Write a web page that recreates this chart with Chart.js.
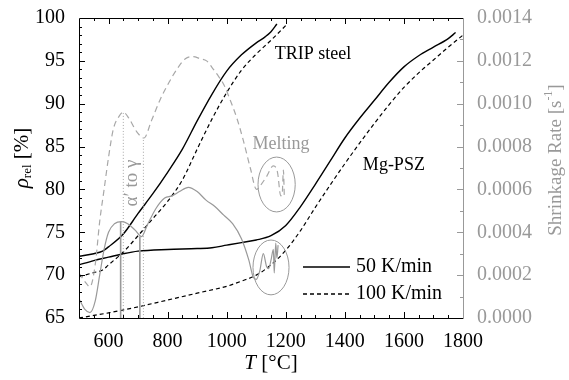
<!DOCTYPE html>
<html>
<head>
<meta charset="utf-8">
<script src="https://cdn.jsdelivr.net/npm/chart.js@4.4.1/dist/chart.umd.min.js"></script>
<style>
  html, body { margin: 0; padding: 0; background: #fff; }
</style>
</head>
<body>
<canvas id="sinterChart" width="569" height="380"></canvas>
<script>
// Datos: densidad relativa (eje izq.) y velocidad de contracción (eje der.)
const tTrip50 = [500, 550, 580, 600, 650, 700, 750, 800, 850, 900, 950, 1000, 1050, 1100, 1130, 1150, 1170];
const rhoTrip50 = [72.2, 72.5, 72.8, 73.3, 74.8, 77.2, 79.5, 82.0, 84.7, 88.0, 91.1, 93.8, 95.7, 97.1, 97.8, 98.4, 99.3];

const tTrip100 = [500, 550, 580, 600, 650, 700, 750, 800, 850, 900, 950, 1000, 1050, 1100, 1150, 1205];
const rhoTrip100 = [69.8, 70.3, 70.6, 71.2, 72.7, 74.6, 76.6, 78.6, 81.1, 84.7, 88.2, 91.3, 93.9, 95.8, 97.4, 99.3];

const tPsz50 = [500, 550, 600, 650, 700, 800, 900, 950, 1000, 1050, 1100, 1150, 1200, 1250, 1300, 1350, 1400, 1450, 1500, 1550, 1600, 1650, 1700, 1750, 1775];
const rhoPsz50 = [71.2, 71.7, 72.1, 72.5, 72.8, 73.0, 73.1, 73.2, 73.5, 73.8, 74.1, 74.6, 75.8, 78.0, 80.6, 83.3, 86.0, 88.3, 90.4, 92.5, 94.3, 95.6, 96.6, 97.6, 98.3];

const tPsz100 = [500, 550, 600, 700, 800, 900, 1000, 1050, 1100, 1150, 1200, 1250, 1300, 1350, 1400, 1450, 1500, 1550, 1600, 1650, 1700, 1750, 1800];
const rhoPsz100 = [65.0, 65.3, 65.6, 66.3, 67.1, 67.9, 68.7, 69.3, 70.0, 71.2, 72.9, 75.2, 77.9, 80.5, 83.0, 85.4, 87.7, 89.9, 91.9, 93.6, 95.1, 96.6, 98.0];

// Velocidad de contracción TRIP (s^-1)
const tRate50 = [500, 520, 537, 555, 570, 585, 600, 620, 645, 665, 690, 712, 730, 760, 790, 815, 840, 870, 900, 930, 960, 990, 1020, 1050, 1075, 1090, 1100, 1112, 1124, 1135, 1142, 1150, 1158, 1161, 1166, 1170, 1174];
const rate50 = [0.00009, 0.00004, 0.000025, 0.00008, 0.00020, 0.00032, 0.00040, 0.00044, 0.00045, 0.00044, 0.00041, 0.00038, 0.00043, 0.00051, 0.00056, 0.00057, 0.00059, 0.00061, 0.00059, 0.00055, 0.00052, 0.00048, 0.00044, 0.00037, 0.00027, 0.00019, 0.00018, 0.00022, 0.00030, 0.00024, 0.00023, 0.00027, 0.00032, 0.00021, 0.00035, 0.00028, 0.00034];

const tRate100 = [500, 520, 537, 555, 570, 585, 600, 616, 635, 650, 670, 695, 720, 745, 775, 805, 831, 860, 887, 910, 932, 950, 966, 990, 1011, 1035, 1056, 1080, 1101, 1115, 1135, 1158, 1172, 1183, 1188, 1192, 1195];
const rate100 = [0.00021, 0.00017, 0.000146, 0.00025, 0.00045, 0.00060, 0.00075, 0.00088, 0.00094, 0.00096, 0.00093, 0.00087, 0.00084, 0.00092, 0.00102, 0.00110, 0.00116, 0.00121, 0.00122, 0.00121, 0.00120, 0.00117, 0.00114, 0.00109, 0.00102, 0.00093, 0.00083, 0.00070, 0.00060, 0.00062, 0.00066, 0.00071, 0.00068, 0.00057, 0.00058, 0.00069, 0.00057];

// Transformación alfa' -> gamma (líneas verticales)
const tAlphaSolid = [641, 706];
const rateAlphaSolid = [0.00045, 0.00038];
const tAlphaDotted = [650, 718];
const rateAlphaDotted = [0.00096, 0.00084];

// Elipses "Melting": centro (T, tasa), semiejes
const meltT = [1169, 1150];
const meltRate = [0.000623, 0.000236];
const meltHalfT = [63, 61];
const meltHalfRate = [0.000128, 0.000128];

const xTicks = [600, 800, 1000, 1200, 1400, 1600, 1800];
const yTicks = [65, 70, 75, 80, 85, 90, 95, 100];
const y2Ticks = [0, 0.0002, 0.0004, 0.0006, 0.0008, 0.0010, 0.0012, 0.0014];

const SERIF = '"Liberation Serif", "DejaVu Serif", serif';
const GRAY = '#999999';
const GRAY_LIGHT = '#a8a8a8';

function pts(xs, ys) {
    return xs.map((x, i) => ({ x: x, y: ys[i] }));
}

function vLines(xs, ys) {
    // cada línea: de 0 hasta el valor, separadas por null
    let out = [];
    xs.forEach((x, i) => {
        out.push({ x: x, y: 0 }, { x: x, y: ys[i] }, { x: x, y: null });
    });
    return out;
}

const framePlugin = {
    id: 'frame',
    afterDraw(chart) {
        const ctx = chart.ctx;
        const a = chart.chartArea;
        const sx = chart.scales.x, sy = chart.scales.y, sy2 = chart.scales.y2;
        ctx.save();

        // ticks hacia dentro
        ctx.lineWidth = 1;
        ctx.strokeStyle = '#000';
        ctx.beginPath();
        for (let v = 550; v <= 1800; v += 50) {
            const px = Math.round(sx.getPixelForValue(v)) + 0.5;
            const len = xTicks.includes(v) ? 6 : 3;
            ctx.moveTo(px, a.bottom); ctx.lineTo(px, a.bottom - len);
            ctx.moveTo(px, a.top); ctx.lineTo(px, a.top + len);
        }
        for (let v = 66; v < 100; v += 1) {
            const py = Math.round(sy.getPixelForValue(v)) + 0.5;
            const len = yTicks.includes(v) ? 6 : 3;
            ctx.moveTo(a.left, py); ctx.lineTo(a.left + len, py);
        }
        ctx.stroke();

        ctx.strokeStyle = GRAY;
        ctx.beginPath();
        for (let k = 1; k < 14; k++) {
            const py = Math.round(sy2.getPixelForValue(k * 0.0001)) + 0.5;
            const len = k % 2 === 0 ? 6 : 3;
            ctx.moveTo(a.right, py); ctx.lineTo(a.right - len, py);
        }
        ctx.stroke();

        // marco
        ctx.strokeStyle = '#000';
        ctx.beginPath();
        ctx.moveTo(a.right, a.top + 0.5); ctx.lineTo(a.left + 0.5, a.top + 0.5);
        ctx.lineTo(a.left + 0.5, a.bottom + 0.5); ctx.lineTo(a.right, a.bottom + 0.5);
        ctx.stroke();
        ctx.strokeStyle = GRAY;
        ctx.beginPath();
        ctx.moveTo(a.right + 0.5, a.top); ctx.lineTo(a.right + 0.5, a.bottom + 1);
        ctx.stroke();

        // elipses de fusión
        ctx.strokeStyle = GRAY;
        ctx.lineWidth = 1;
        meltT.forEach((t, i) => {
            const cx = sx.getPixelForValue(t);
            const cy = sy2.getPixelForValue(meltRate[i]);
            const rx = sx.getPixelForValue(t + meltHalfT[i]) - cx;
            const ry = cy - sy2.getPixelForValue(meltRate[i] + meltHalfRate[i]);
            ctx.beginPath();
            ctx.ellipse(cx, cy, rx, ry, 0, 0, Math.PI * 2);
            ctx.stroke();
        });

        // textos de anotación
        ctx.textBaseline = 'middle';
        ctx.textAlign = 'center';
        ctx.fillStyle = '#000';
        ctx.font = '18px ' + SERIF;
        ctx.fillText('TRIP steel', sx.getPixelForValue(1292), sy.getPixelForValue(95.8));
        ctx.fillText('Mg-PSZ', sx.getPixelForValue(1566), sy.getPixelForValue(82.85));
        ctx.fillStyle = GRAY;
        ctx.font = '18px ' + SERIF;
        ctx.fillText('Melting', sx.getPixelForValue(1184), sy2.getPixelForValue(0.000812));

        ctx.save();
        ctx.translate(sx.getPixelForValue(679), sy.getPixelForValue(80.75));
        ctx.rotate(-Math.PI / 2);
        ctx.font = '19px ' + SERIF;
        ctx.fillText('\u03b1\u2032 to \u03b3', 0, 0);
        ctx.restore();

        // leyenda
        ctx.strokeStyle = '#000';
        ctx.lineWidth = 1.3;
        ctx.beginPath();
        ctx.moveTo(303, 267); ctx.lineTo(350, 267);
        ctx.stroke();
        ctx.setLineDash([4, 3]);
        ctx.beginPath();
        ctx.moveTo(303, 294); ctx.lineTo(350, 294);
        ctx.stroke();
        ctx.setLineDash([]);
        ctx.fillStyle = '#000';
        ctx.font = '20px ' + SERIF;
        ctx.textAlign = 'left';
        ctx.fillText('50 K/min', 356, 267);
        ctx.fillText('100 K/min', 356, 294);

        // títulos de ejes
        ctx.textAlign = 'left';
        ctx.font = 'italic 21px ' + SERIF;
        const tW = ctx.measureText('T').width;
        ctx.font = '21px ' + SERIF;
        const restW = ctx.measureText(' [\u00b0C]').width;
        let x0 = (a.left + a.right) / 2 - (tW + restW) / 2;
        ctx.font = 'italic 21px ' + SERIF;
        ctx.fillText('T', x0, 363);
        ctx.font = '21px ' + SERIF;
        ctx.fillText(' [\u00b0C]', x0 + tW, 363);

        // eje izquierdo: rho_rel [%]
        ctx.save();
        ctx.translate(22, 158);
        ctx.rotate(-Math.PI / 2);
        ctx.font = 'italic 21px ' + SERIF;
        const rW = ctx.measureText('\u03c1').width;
        ctx.font = '13px ' + SERIF;
        const subW = ctx.measureText('rel').width;
        ctx.font = '21px ' + SERIF;
        const pW = ctx.measureText(' [%]').width;
        let s = -(rW + subW + pW) / 2;
        ctx.font = 'italic 21px ' + SERIF;
        ctx.fillText('\u03c1', s, 0);
        ctx.font = '13px ' + SERIF;
        ctx.fillText('rel', s + rW, 6);
        ctx.font = '21px ' + SERIF;
        ctx.fillText(' [%]', s + rW + subW, 0);
        ctx.restore();

        // eje derecho: Shrinkage Rate [s^-1]
        ctx.save();
        ctx.translate(556, 160);
        ctx.rotate(-Math.PI / 2);
        ctx.fillStyle = GRAY;
        ctx.font = '19px ' + SERIF;
        const aW = ctx.measureText('Shrinkage Rate [s').width;
        ctx.font = '12px ' + SERIF;
        const supW = ctx.measureText('-1').width;
        ctx.font = '19px ' + SERIF;
        const bW = ctx.measureText(']').width;
        s = -(aW + supW + bW) / 2;
        ctx.fillText('Shrinkage Rate [s', s, 0);
        ctx.font = '12px ' + SERIF;
        ctx.fillText('-1', s + aW, -7);
        ctx.font = '19px ' + SERIF;
        ctx.fillText(']', s + aW + supW, 0);
        ctx.restore();

        ctx.restore();
    }
};

const ctx = document.getElementById('sinterChart');

new Chart(ctx, {
    type: 'line',
    data: {
        datasets: [
            { data: pts(tRate50, rate50), yAxisID: 'y2', borderColor: GRAY, borderWidth: 1.2 },
            { data: pts(tRate100, rate100), yAxisID: 'y2', borderColor: GRAY_LIGHT, borderWidth: 1.2, borderDash: [6, 4] },
            { data: vLines(tAlphaSolid, rateAlphaSolid), yAxisID: 'y2', borderColor: GRAY, borderWidth: 1.6, spanGaps: false, tension: 0 },
            { data: vLines(tAlphaDotted, rateAlphaDotted), yAxisID: 'y2', borderColor: GRAY_LIGHT, borderWidth: 1, borderDash: [1, 2], spanGaps: false, tension: 0 },
            { data: pts(tTrip50, rhoTrip50), yAxisID: 'y', borderColor: '#000', borderWidth: 1.4 },
            { data: pts(tTrip100, rhoTrip100), yAxisID: 'y', borderColor: '#000', borderWidth: 1.2, borderDash: [4, 3] },
            { data: pts(tPsz50, rhoPsz50), yAxisID: 'y', borderColor: '#000', borderWidth: 1.4 },
            { data: pts(tPsz100, rhoPsz100), yAxisID: 'y', borderColor: '#000', borderWidth: 1.2, borderDash: [4, 3] }
        ]
    },
    options: {
        responsive: false,
        animation: false,
        layout: { padding: { top: 18, left: 0, right: 0, bottom: 0 } },
        elements: {
            point: { radius: 0 },
            line: { cubicInterpolationMode: 'monotone', fill: false }
        },
        plugins: {
            legend: { display: false },
            tooltip: { enabled: false }
        },
        scales: {
            x: {
                type: 'linear',
                min: 500,
                max: 1800,
                afterBuildTicks: function(scale) {
                    scale.ticks = xTicks.map(v => ({ value: v }));
                },
                afterFit: function(scale) { scale.height = 62; },
                grid: { display: false },
                border: { display: false },
                ticks: {
                    autoSkip: false,
                    maxRotation: 0,
                    padding: 4,
                    color: '#000',
                    font: { family: SERIF, size: 20 },
                    callback: function(value) {
                        return String(value);
                    }
                }
            },
            y: {
                position: 'left',
                min: 65,
                max: 100,
                afterBuildTicks: function(scale) {
                    scale.ticks = yTicks.map(v => ({ value: v }));
                },
                afterFit: function(scale) { scale.width = 79; },
                grid: { display: false },
                border: { display: false },
                ticks: {
                    autoSkip: false,
                    padding: 6,
                    color: '#000',
                    font: { family: SERIF, size: 20 },
                    callback: function(value) {
                        return String(value);
                    }
                }
            },
            y2: {
                position: 'right',
                min: 0,
                max: 0.0014,
                afterBuildTicks: function(scale) {
                    scale.ticks = y2Ticks.map(v => ({ value: v }));
                },
                afterFit: function(scale) { scale.width = 106; },
                grid: { display: false },
                border: { display: false },
                ticks: {
                    autoSkip: false,
                    padding: 6,
                    color: GRAY,
                    font: { family: SERIF, size: 20 },
                    callback: function(value) {
                        return value.toFixed(4);
                    }
                }
            }
        }
    },
    plugins: [framePlugin]
});
</script>
</body>
</html>
